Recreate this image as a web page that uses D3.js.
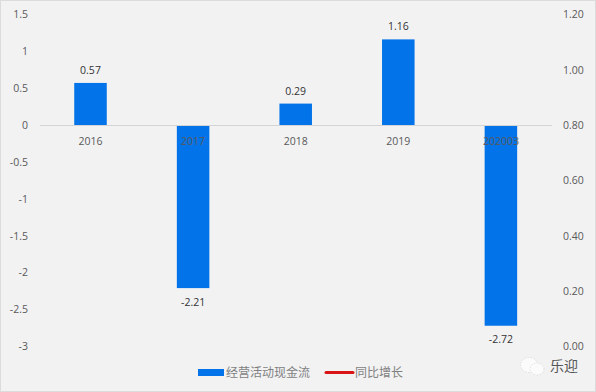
<!DOCTYPE html>
<html><head><meta charset="utf-8">
<script src="https://cdn.jsdelivr.net/npm/d3@7/dist/d3.min.js"></script>
<style>html,body{margin:0;padding:0;background:#f2f2f3}svg{display:block}</style>
</head><body><svg id="c" width="596" height="392"></svg>
<script>
const categories=["2016","2017","2018","2019","202003"];
const values=[0.57,-2.21,0.29,1.16,-2.72];
const leftTicks=[1.5,1,0.5,0,-0.5,-1,-1.5,-2,-2.5,-3];
const rightTicks=[1.2,1,0.8,0.6,0.4,0.2,0];
const legendLabels=["经营活动现金流","同比增长"];
const font='"Open Sans","Noto Sans CJK SC",sans-serif';
const cjk='"Noto Sans CJK SC",sans-serif';
const svg=d3.select("#c");
svg.append("rect").attr("width",596).attr("height",392).attr("fill","#f2f2f3");
svg.append("rect").attr("x",0.5).attr("y",0.5).attr("width",595).attr("height",391).attr("fill","none").attr("stroke","#dcdcdc");
const x=d3.scaleBand().domain(categories).range([39.2,552.2]).paddingInner(0.683).paddingOuter(0.3415);
const y=d3.scaleLinear().domain([-3,1.5]).range([346.4,14.3]);
const y2=d3.scaleLinear().domain([0,1.2]).range([346.4,14.3]);

const axL=svg.append("g").attr("transform","translate(28,0)").call(d3.axisLeft(y).tickValues(leftTicks).tickSize(0).tickPadding(0).tickFormat(d3.format("~g")));
const axR=svg.append("g").attr("transform","translate(563,0)").call(d3.axisRight(y2).tickValues(rightTicks).tickSize(0).tickPadding(0).tickFormat(d3.format(".2f")));
[axL,axR].forEach(a=>{a.select(".domain").remove();a.selectAll("text").attr("font-family",font).attr("font-size",10.5).attr("fill","#595959");});
axL.selectAll("text").text(d=>String(d));

svg.append("g").selectAll("rect").data(values).join("rect")
 .attr("x",(d,i)=>x(categories[i])).attr("width",x.bandwidth())
 .attr("y",d=>d>0?y(d):y(0)).attr("height",d=>Math.abs(y(d)-y(0)))
 .attr("fill","#0273e8");

svg.append("line").attr("x1",40).attr("x2",552).attr("y1",y(0)+0.5).attr("y2",y(0)+0.5).attr("stroke","#d4d4d4");

svg.append("g").selectAll("text").data(categories).join("text")
 .attr("x",d=>x(d)+x.bandwidth()/2).attr("y",y(0)+19.5).attr("text-anchor","middle")
 .attr("font-family",font).attr("font-size",10.5).attr("fill","#595959").text(d=>d);

svg.append("g").selectAll("text").data(values).join("text")
 .attr("x",(d,i)=>x(categories[i])+x.bandwidth()/2)
 .attr("y",d=>d>0?y(d)-9:y(d)+17.5).attr("text-anchor","middle")
 .attr("font-family",font).attr("font-size",10.5).attr("fill","#333").text(d=>d.toFixed(2));

// legend
svg.append("rect").attr("x",198).attr("y",369).attr("width",26).attr("height",7).attr("fill","#0273e8");
svg.append("text").attr("x",226).attr("y",377).attr("font-family",cjk).attr("font-size",12).attr("fill","#7f7f7f").text(legendLabels[0]);
svg.append("line").attr("x1",326).attr("x2",353).attr("y1",372.5).attr("y2",372.5).attr("stroke","#d81414").attr("stroke-width",3).attr("stroke-linecap","round");
svg.append("text").attr("x",355).attr("y",377).attr("font-family",cjk).attr("font-size",12).attr("fill","#7f7f7f").text(legendLabels[1]);

// watermark
const wm=svg.append("g");
wm.append("ellipse").attr("cx",529).attr("cy",365).attr("rx",8.5).attr("ry",7.5).attr("fill","#fbfbfb").attr("stroke","#c4c4c4").attr("stroke-width",.5).attr("stroke-dasharray","1.5 1.5");
wm.append("ellipse").attr("cx",537).attr("cy",369).attr("rx",7).attr("ry",6).attr("fill","#fbfbfb").attr("stroke","#c4c4c4").attr("stroke-width",.5).attr("stroke-dasharray","1.5 1.5");
wm.append("text").attr("x",550).attr("y",371).attr("font-family",cjk).attr("font-size",14).attr("fill","#555").text("乐迎");
</script></body></html>
